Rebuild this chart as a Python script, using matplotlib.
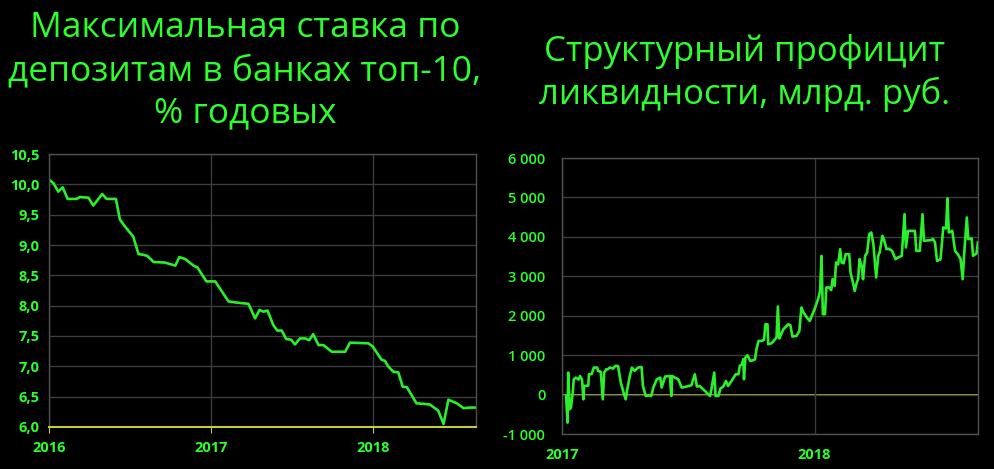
import matplotlib.pyplot as plt
import matplotlib.dates as mdates
import matplotlib.ticker as mticker
import pandas as pd

# deposit rate, top-10 banks (days since 2016-01-01, % per year)
rate_day = [0, 10, 21, 31, 42, 62, 70, 89, 100, 120, 130, 151, 160, 172, 190,
            202, 212, 222, 236, 262, 285, 294, 307, 326, 335, 355, 375, 405,
            424, 450, 465, 475, 484, 493, 506, 515, 525, 535, 546, 555, 566,
            578, 587, 596, 608, 619, 638, 668, 679, 720, 730, 740, 750, 758,
            765, 777, 788, 798, 807, 829, 848, 859, 878, 890, 901, 920, 935,
            950, 962]
rate_val = [10.08, 10.02, 9.88, 9.95, 9.76, 9.76, 9.79, 9.78, 9.65, 9.84, 9.76,
            9.76, 9.42, 9.30, 9.14, 8.85, 8.84, 8.82, 8.72, 8.71, 8.66, 8.80,
            8.77, 8.66, 8.63, 8.40, 8.40, 8.07, 8.05, 8.03, 7.79, 7.93, 7.90,
            7.92, 7.68, 7.59, 7.59, 7.45, 7.44, 7.36, 7.46, 7.46, 7.43, 7.53,
            7.35, 7.35, 7.24, 7.24, 7.39, 7.38, 7.33, 7.22, 7.11, 7.09, 7.00,
            6.91, 6.90, 6.66, 6.66, 6.39, 6.38, 6.37, 6.27, 6.05, 6.45, 6.39,
            6.31, 6.32, 6.32]

# structural liquidity surplus (days since 2017-01-01, bn rub)
liq_day = [6, 8, 9, 11, 13, 16, 17, 20, 24, 26, 29, 31, 32, 38, 39, 43, 46, 51,
           52, 56, 59, 61, 64, 66, 69, 74, 77, 81, 85, 89, 92, 94, 98, 101, 105,
           110, 115, 117, 121, 126, 129, 132, 137, 142, 144, 149, 156, 158, 159,
           163, 168, 173, 180, 187, 192, 195, 199, 204, 209, 214, 216, 220, 222,
           226, 229, 233, 237, 240, 245, 251, 255, 257, 260, 262, 263, 265, 268,
           272, 276, 279, 281, 284, 288, 292, 294, 297, 298, 303, 310, 312, 314,
           320, 327, 330, 333, 339, 343, 346, 349, 354, 358, 362, 365, 370, 373,
           375, 377, 380, 382, 386, 389, 391, 394, 396, 399, 402, 404, 407, 410,
           415, 417, 421, 423, 426, 428, 430, 433, 435, 438, 441, 444, 447, 450,
           454, 457, 459, 463, 465, 469, 472, 477, 482, 486, 491, 495, 497, 500,
           510, 512, 517, 521, 523, 534, 536, 539, 542, 547, 551, 555, 557, 559,
           564, 568, 572, 576, 579, 581, 585, 587, 592, 594, 599, 601]
liq_val = [-50, -711, 558, -373, -330, 135, 388, 430, 380, 472, 380, -120, 218,
           230, 515, 520, 685, 685, 600, 580, -120, 558, 642, 640, 685, 660, 726,
           726, 305, 51, -120, 100, 472, 685, 600, 685, 700, 218, -35, -20, -35,
           178, 388, 431, 178, 457, 472, -35, 472, 431, 388, 178, 203, 236, 515,
           203, 218, 135, 51, -35, 135, 558, -35, -35, 152, 203, 345, 218, 345,
           515, 515, 730, 769, 896, 388, 939, 997, 853, 870, 896, 1150, 1360,
           1360, 1386, 1784, 1784, 1277, 1302, 1447, 2234, 1421, 1657, 1784,
           1759, 1472, 1488, 1615, 2208, 2081, 1954, 1868, 2038, 2165, 2419,
           2630, 3518, 2038, 2038, 2716, 2716, 2650, 2926, 2756, 3350, 3300,
           3688, 3350, 3330, 3561, 3561, 3096, 2800, 2630, 2843, 2926, 3434,
           3264, 2926, 3518, 3604, 4068, 4112, 3815, 2970, 3518, 3604, 4026,
           3950, 3688, 3700, 3645, 3434, 3480, 3518, 4576, 3731, 4152, 4152,
           3645, 3645, 4576, 3899, 3920, 3950, 3858, 3391, 3430, 4239, 4213,
           4975, 4112, 4152, 3645, 3560, 3434, 2926, 3518, 4492, 3942, 3959,
           3518, 3578, 3858]

rate_title = "Максимальная ставка по\nдепозитам в банках топ-10,\n% годовых"
liq_title = "Структурный профицит\nликвидности, млрд. руб."

GREEN = "#2cff2c"
LINE = "#2af02a"
GRID = "#3c3c3c"
YELLOW = "#c8c83c"

rate_dates = pd.Timestamp("2016-01-01") + pd.to_timedelta(rate_day, unit="D")
liq_dates = pd.Timestamp("2017-01-01") + pd.to_timedelta(liq_day, unit="D")

fig = plt.figure(figsize=(9.95, 4.69), dpi=100, facecolor="black")
plt.rcParams["font.family"] = ["Open Sans", "DejaVu Sans"]

ax1 = fig.add_axes([0.0492, 0.0896, 0.4291, 0.582])
ax2 = fig.add_axes([0.5648, 0.0746, 0.418, 0.5885])

for ax in (ax1, ax2):
    ax.set_facecolor("black")
    for s in ax.spines.values():
        s.set_color("#505050")
        s.set_linewidth(1)
    ax.grid(True, color=GRID, linewidth=1)
    ax.xaxis.set_major_locator(mdates.YearLocator())
    ax.xaxis.set_major_formatter(mdates.DateFormatter("%Y"))
    ax.tick_params(colors=GREEN, length=0)

# left chart
ax1.plot(rate_dates, rate_val, color=LINE, lw=1.9)
ax1.set_xlim(pd.Timestamp("2016-01-01"), pd.Timestamp("2016-01-01") + pd.Timedelta(days=963))
ax1.set_ylim(6.0, 10.5)
ax1.yaxis.set_major_locator(mticker.MultipleLocator(0.5))
ax1.yaxis.set_major_formatter(mticker.FuncFormatter(lambda v, p: f"{v:.1f}".replace(".", ",")))
ax1.spines["bottom"].set_color(YELLOW)
ax1.spines["bottom"].set_linewidth(1.5)
ax1.tick_params(axis="x", length=4, color=YELLOW, pad=6)
ax1.tick_params(axis="y", pad=7)
for lab in ax1.get_xticklabels() + ax1.get_yticklabels():
    lab.set_fontweight("bold")
    lab.set_fontsize(10.5)

# right chart
ax2.plot(liq_dates, liq_val, color=LINE, lw=1.9)
ax2.axhline(0, color=YELLOW, lw=1.2, zorder=1)
ax2.set_xlim(pd.Timestamp("2017-01-01"), pd.Timestamp("2017-01-01") + pd.Timedelta(days=601))
ax2.set_ylim(-1000, 6000)
ax2.yaxis.set_major_locator(mticker.MultipleLocator(1000))
ax2.yaxis.set_major_formatter(mticker.FuncFormatter(lambda v, p: f"{v:,.0f}".replace(",", " ")))
ax2.tick_params(axis="x", pad=10)
ax2.tick_params(axis="y", pad=12)
for lab in ax2.get_yticklabels():
    lab.set_fontsize(10.5)
    lab.set_fontweight("semibold")
for lab in ax2.get_xticklabels():
    lab.set_fontsize(10.5)
    lab.set_fontweight("bold")

fig.text(245 / 995, 1 - 71 / 469, rate_title, color=GREEN, fontsize=25.5,
         ha="center", va="center", linespacing=1.33)
fig.text(745 / 995, 1 - 73 / 469, liq_title, color=GREEN, fontsize=25,
         ha="center", va="center", linespacing=1.3)

fig.savefig("out.png", dpi=100, facecolor="black")
